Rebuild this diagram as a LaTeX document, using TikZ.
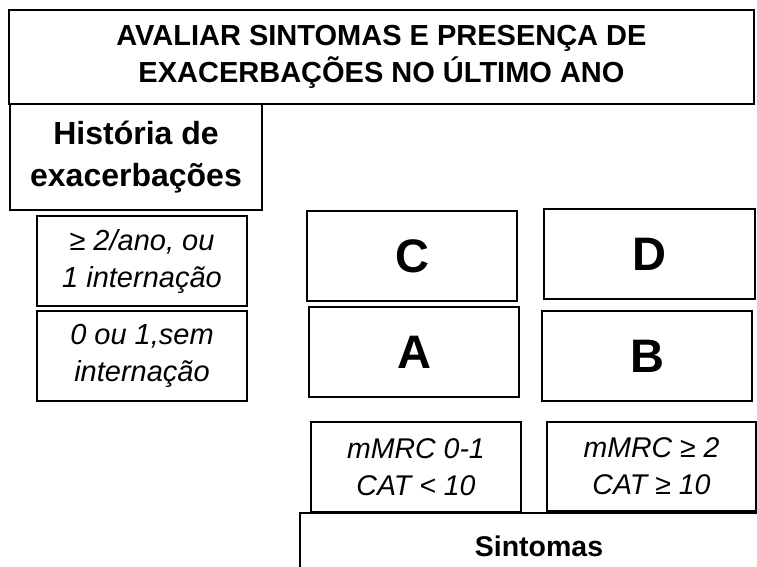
\documentclass[tikz,border=0pt]{standalone}
\usepackage{fontspec}
\setmainfont{Liberation Sans}
\begin{document}
\begin{tikzpicture}[x=1pt,y=-1pt]
\tikzset{
  box/.style={draw=black, line width=2pt, inner sep=0pt, align=center, text=black},
  titlefont/.style={font=\fontsize{29}{36.7}\selectfont\bfseries},
  histfont/.style={font=\fontsize{32}{41.5}\selectfont\bfseries},
  letterfont/.style={font=\fontsize{47}{50}\selectfont\bfseries},
  critfont/.style={font=\fontsize{29}{37}\selectfont\itshape},
  symfont/.style={font=\fontsize{28.5}{36.7}\selectfont\itshape},
  sintfont/.style={font=\fontsize{28.5}{34}\selectfont\bfseries}
}
\useasboundingbox (0,0) rectangle (757,566);
\clip (0,0) rectangle (757,566);
\fill[white] (0,0) rectangle (757,566);

\node[box, titlefont, minimum width=745pt, minimum height=94pt] (title) at (381.5,57)
  {AVALIAR SINTOMAS E PRESENÇA DE\\EXACERBAÇÕES NO ÚLTIMO ANO};
\node[box, histfont, minimum width=252pt, minimum height=106pt] (hist) at (136,157)
  {História de\\exacerbações};

\node[box, critfont, minimum width=210pt, minimum height=90pt] (high) at (142,261)
  {≥ 2/ano, ou\\1 internação};
\node[box, critfont, minimum width=210pt, minimum height=90pt] (low) at (142,356)
  {0 ou 1,sem\\internação};

\node[box, letterfont, minimum width=210pt, minimum height=90pt] (C) at (412,256) {C};
\node[box, letterfont, minimum width=211pt, minimum height=90pt] (D) at (649.5,254) {D};
\node[box, letterfont, minimum width=210pt, minimum height=90pt] (A) at (414,352) {A};
\node[box, letterfont, minimum width=210pt, minimum height=90pt] (B) at (647,356) {B};

\node[box, symfont, minimum width=210pt, minimum height=90pt] (few) at (416,467)
  {mMRC 0-1\\CAT < 10};
\node[box, symfont, minimum width=209pt, minimum height=89pt] (many) at (651.5,466.5)
  {mMRC ≥ 2\\CAT ≥ 10};

\node[box, sintfont, minimum width=478pt, minimum height=67pt] (sint) at (539,546.5)
  {Sintomas};
\end{tikzpicture}
\end{document}
